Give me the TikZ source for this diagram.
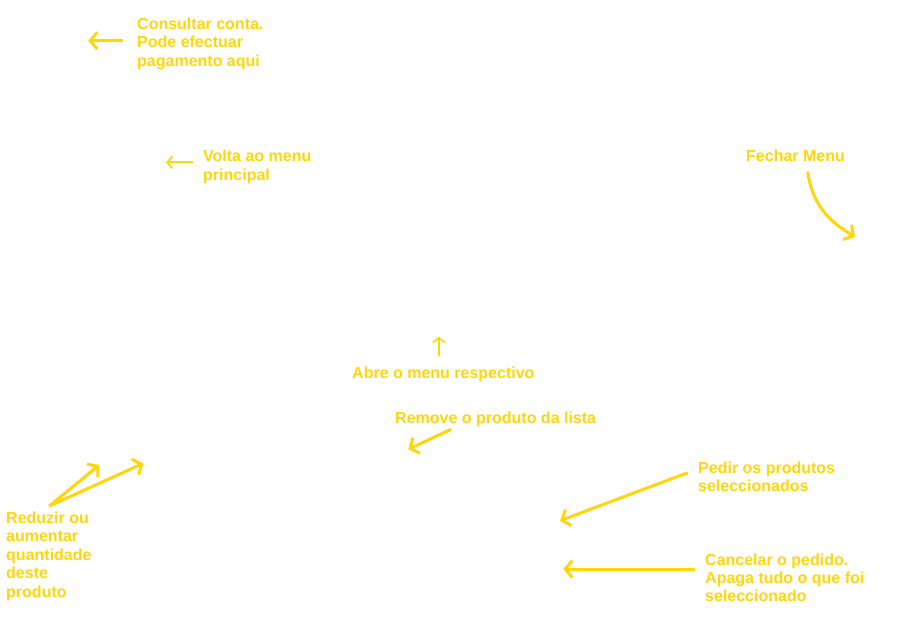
\documentclass[tikz,border=0pt]{standalone}
\usepackage{fontspec}
\setmainfont{Liberation Sans}
\usetikzlibrary{arrows.meta,positioning}
\definecolor{notegold}{RGB}{255,214,10}
\begin{document}
\begin{tikzpicture}[
            x=1pt, y=-1pt,
            note/.style = {anchor=north west,
                inner sep=0pt,
                align=left,
                text=notegold,
                font=\fontsize{16}{18.4}\selectfont\bfseries,
            },
            pointer/.style = {draw=notegold,
                line width=3pt,
                -{Straight Barb[length=7pt,width=17pt]},
            },
            thinpointer/.style = {pointer,
                line width=2pt,
                -{Straight Barb[length=5pt,width=12pt]},
            },
        ]
            \useasboundingbox[fill=white] (0,0) rectangle (909,628);
            \node[note] (consulta) at (137,17.7) {Consultar conta.\\Pode efectuar\\pagamento aqui};
            \node[note] (volta) at (203,149.9) {Volta ao menu\\principal};
            \node[note] (fechar) at (746,149.4) {Fechar Menu};
            \node[note] (abre) at (352,366.4) {Abre o menu respectivo};
            \node[note] (remove) at (395,411.9) {Remove o produto da lista};
            \node[note] (reduzir) at (6,511.7) {Reduzir ou\\aumentar\\quantidade\\deste\\produto};
            \node[note] (pedir) at (698,461.7) {Pedir os produtos\\seleccionados};
            \node[note] (cancelar) at (705,553.4) {Cancelar o pedido.\\Apaga tudo o que foi\\seleccionado};
            \coordinate (consulta-from) at (123.3,40.7);
            \coordinate (consulta-to) at (88.3,40.7);
            \coordinate (volta-from) at (193.3,162.3);
            \coordinate (volta-to) at (166,162.3);
            \coordinate (fechar-from) at (807.7,171.7);
            \coordinate (fechar-to) at (855,236.7);
            \coordinate (abre-from) at (439,356);
            \coordinate (abre-to) at (439,336.7);
            \coordinate (remove-from) at (451,429.3);
            \coordinate (remove-to) at (408.3,449.3);
            \coordinate (reduzir-from) at (49.3,506);
            \coordinate (reduzir-less) at (99.3,465);
            \coordinate (reduzir-more) at (143.3,463.3);
            \coordinate (pedir-from) at (687.7,472.7);
            \coordinate (pedir-to) at (560,520.7);
            \coordinate (cancelar-from) at (695,569);
            \coordinate (cancelar-to) at (563.3,569);
            \draw[pointer] (consulta-from) -- (consulta-to);
            \draw[thinpointer] (volta-from) -- (volta-to);
            \draw[pointer] (fechar-from) .. controls (812,205) and (830,222) .. (fechar-to);
            \draw[thinpointer, line width=1.5pt] (abre-from) -- (abre-to);
            \draw[pointer] (remove-from) -- (remove-to);
            \draw[pointer] (reduzir-from) -- (reduzir-less);
            \draw[pointer] (reduzir-from) -- (reduzir-more);
            \draw[pointer] (pedir-from) -- (pedir-to);
            \draw[pointer] (cancelar-from) -- (cancelar-to);
        \end{tikzpicture}
\end{document}
